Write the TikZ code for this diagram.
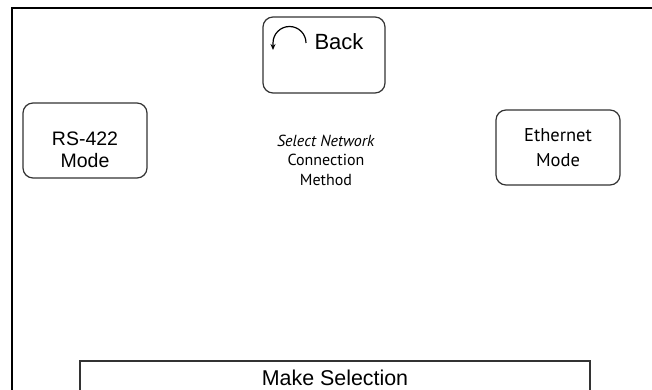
\documentclass[tikz,border=0pt]{standalone}
\usepackage{fontspec}
\setmainfont{Liberation Sans}
\newfontfamily\myriadfont{PT Sans}
\usetikzlibrary{arrows.meta}
\definecolor{edge}{gray}{0.2}
\tikzset{
    base/.style={inner sep=0pt, outer sep=0pt},
    modebox/.style={base, draw=edge, line width=1.2pt, rounded corners=10pt, align=center},
    frameline/.style={black, line width=2pt}
}
\begin{document}
\begin{tikzpicture}[base, x=1pt, y=-1pt]
    \path [use as bounding box] (0,0) rectangle (652,390);
    % screen frame
    \draw [frameline] (11.5,390) -- (11.5,8.5) -- (652,8.5);
    % buttons
    \node [modebox, minimum width=122pt, minimum height=76pt] (back) at (324,55) {};
    \node [base, font=\fontsize{22}{24}\selectfont] (backlabel) at (339,42) {Back};
    \draw [line width=1.2pt, -{Stealth[length=6pt,width=5pt]}] (306,43) arc[start angle=0, end angle=-180, radius=16.5] -- ++(0,7);
    \node [modebox, minimum width=124pt, minimum height=75pt] (rs) at (85,140.5) {};
    \node [base, align=center, font=\fontsize{19.5}{22}\selectfont] (rslabel) at (85,150) {RS-422\\Mode};
    \node [modebox, minimum width=124pt, minimum height=75pt, font=\myriadfont\fontsize{18.5}{24.5}\selectfont] (eth) at (558,147.5) {Ethernet\\Mode};
    % title
    \node [base, align=center, font=\myriadfont\fontsize{16}{19.5}\selectfont] (title) at (326,160) {\textit{Select Network}\\Connection\\Method};
    % bottom bar
    \node [base, draw=edge, line width=2pt, minimum width=510pt, minimum height=34pt, font=\fontsize{21.4}{24}\selectfont] (make) at (335,378) {Make Selection};
\end{tikzpicture}
\end{document}
